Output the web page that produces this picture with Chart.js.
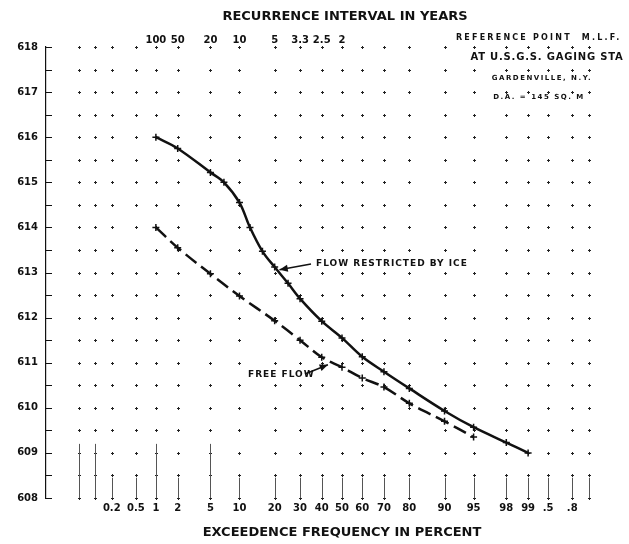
<!DOCTYPE html>
<html>
<head>
<meta charset="utf-8">
<title>Stage frequency curve</title>
<style>
  html, body { margin: 0; padding: 0; background: #fff; }
  #wrap { width: 629px; height: 544px; }
</style>
<script src="https://cdn.jsdelivr.net/npm/chart.js@4.4.0/dist/chart.umd.min.js"></script>
</head>
<body>
<div id="wrap"><canvas id="chart" width="629" height="544"></canvas></div>
<script>
// --- Data ---
const gridPercents = [0.05, 0.1, 0.2, 0.5, 1, 2, 5, 10, 20, 30, 40, 50, 60, 70, 80, 90, 95, 98, 99, 99.5, 99.8, 99.9];
const bottomLabels = ['', '', '0.2', '0.5', '1', '2', '5', '10', '20', '30', '40', '50', '60', '70', '80', '90', '95', '98', '99', '.5', '.8', ''];
const recurrencePercents = [1, 2, 5, 10, 20, 30, 40, 50];
const recurrenceLabels = ['100', '50', '20', '10', '5', '3.3', '2.5', '2'];
const stageRows = [608, 608.5, 609, 609.5, 610, 610.5, 611, 611.5, 612, 612.5, 613, 613.5, 614, 614.5, 615, 615.5, 616, 616.5, 617, 617.5, 618];

const iceFlowPercents = [1, 2, 5, 7, 10, 12.5, 16, 20, 25, 30, 40, 50, 60, 70, 80, 90, 95, 98, 99];
const iceFlowStages = [616.0, 615.75, 615.22, 615.0, 614.55, 614.0, 613.47, 613.12, 612.76, 612.42, 611.92, 611.55, 611.13, 610.8, 610.43, 609.93, 609.57, 609.23, 609.0];

const freeFlowPercents = [1, 2, 5, 10, 20, 30, 40, 50, 60, 70, 80, 90, 95];
const freeFlowStages = [614.0, 613.55, 612.97, 612.48, 611.93, 611.5, 611.12, 610.9, 610.66, 610.46, 610.1, 609.7, 609.35];

const FONT = "'DejaVu Sans', sans-serif";
const INK = '#111';

// --- Helpers ---
// inverse normal CDF (probability paper scale)
function probit(p) {
  const a = [-3.969683028665376e+01, 2.209460984245205e+02, -2.759285104469687e+02, 1.383577518672690e+02, -3.066479806614716e+01, 2.506628277459239e+00];
  const b = [-5.447609879822406e+01, 1.615858368580409e+02, -1.556989798598866e+02, 6.680131188771972e+01, -1.328068155288572e+01];
  const c = [-7.784894002430293e-03, -3.223964580411365e-01, -2.400758277161838e+00, -2.549732539343734e+00, 4.374664141464968e+00, 2.938163982698783e+00];
  const d = [7.784695709041462e-03, 3.224671290700398e-01, 2.445134137142996e+00, 3.754408661907416e+00];
  const pl = 0.02425;
  let q, r;
  if (p < pl) {
    q = Math.sqrt(-2 * Math.log(p));
    return (((((c[0]*q+c[1])*q+c[2])*q+c[3])*q+c[4])*q+c[5]) / ((((d[0]*q+d[1])*q+d[2])*q+d[3])*q+1);
  }
  if (p > 1 - pl) {
    q = Math.sqrt(-2 * Math.log(1 - p));
    return -(((((c[0]*q+c[1])*q+c[2])*q+c[3])*q+c[4])*q+c[5]) / ((((d[0]*q+d[1])*q+d[2])*q+d[3])*q+1);
  }
  q = p - 0.5; r = q * q;
  return (((((a[0]*r+a[1])*r+a[2])*r+a[3])*r+a[4])*r+a[5])*q / (((((b[0]*r+b[1])*r+b[2])*r+b[3])*r+b[4])*r+1);
}
const zOf = pct => probit(pct / 100);
const toPoints = (pcts, vals) => pcts.map((p, i) => ({ x: zOf(p), y: vals[i] }));

function arrow(ctx, x0, y0, x1, y1) {
  const ang = Math.atan2(y1 - y0, x1 - x0);
  ctx.beginPath();
  ctx.moveTo(x0, y0);
  ctx.lineTo(x1, y1);
  ctx.stroke();
  ctx.beginPath();
  ctx.moveTo(x1, y1);
  ctx.lineTo(x1 - 9 * Math.cos(ang - 0.4), y1 - 9 * Math.sin(ang - 0.4));
  ctx.lineTo(x1 - 9 * Math.cos(ang + 0.4), y1 - 9 * Math.sin(ang + 0.4));
  ctx.closePath();
  ctx.fill();
}

// --- Dot grid of the probability paper ---
const dotGrid = {
  id: 'dotGrid',
  beforeDatasetsDraw(chart) {
    const { ctx, scales: { x, y } } = chart;
    ctx.save();
    ctx.strokeStyle = '#222';
    ctx.lineWidth = 1;
    gridPercents.forEach((p, i) => {
      const px = Math.round(x.getPixelForValue(zOf(p))) + 0.5;
      stageRows.forEach(s => {
        const py = Math.round(y.getPixelForValue(s)) + 0.5;
        ctx.beginPath();
        ctx.moveTo(px - 1.5, py); ctx.lineTo(px + 1.5, py);
        ctx.moveTo(px, py - 1.5); ctx.lineTo(px, py + 1.5);
        ctx.stroke();
      });
      // faint stubs at the foot of each column
      ctx.strokeStyle = '#555';
      ctx.beginPath();
      ctx.moveTo(px, y.getPixelForValue(608));
      ctx.lineTo(px, y.getPixelForValue(i < 2 || p === 1 || p === 5 ? 609.2 : 608.45));
      ctx.stroke();
      ctx.strokeStyle = '#222';
    });
    // half-foot ticks on the left axis
    ctx.strokeStyle = INK;
    stageRows.forEach(s => {
      const py = Math.round(y.getPixelForValue(s)) + 0.5;
      ctx.beginPath();
      ctx.moveTo(x.left, py); ctx.lineTo(x.left + 6, py);
      ctx.stroke();
    });
    ctx.restore();
  }
};

// --- Titles, notes and arrows ---
const notes = {
  id: 'notes',
  afterDatasetsDraw(chart) {
    const { ctx, scales: { x, y } } = chart;
    const midX = x.getPixelForValue(0);
    ctx.save();
    ctx.fillStyle = INK;
    ctx.strokeStyle = INK;
    ctx.textBaseline = 'middle';

    ctx.font = `bold 13px ${FONT}`;
    ctx.textAlign = 'center';
    ctx.fillText('RECURRENCE INTERVAL IN YEARS', midX + 3, 17);
    ctx.fillText('EXCEEDENCE FREQUENCY IN PERCENT', midX, 533);

    // station note, top right
    ctx.letterSpacing = '2.2px';
    ctx.font = `bold 8px ${FONT}`;
    ctx.textAlign = 'left';
    ctx.fillText('REFERENCE POINT  M.L.F.', 456, 38);
    ctx.letterSpacing = '0.8px';
    ctx.font = `bold 10px ${FONT}`;
    ctx.textAlign = 'center';
    ctx.fillText('AT U.S.G.S. GAGING STA', 547, 57);
    ctx.letterSpacing = '1.5px';
    ctx.font = `bold 7px ${FONT}`;
    ctx.fillText('GARDENVILLE, N.Y.', 542, 78);
    ctx.fillText('D.A. = 145 SQ. M', 539, 97);

    // curve labels
    ctx.letterSpacing = '1px';
    ctx.font = `bold 9px ${FONT}`;
    ctx.textAlign = 'left';
    ctx.fillText('FLOW RESTRICTED BY ICE', 316, 264);
    ctx.fillText('FREE FLOW', 248, 375);

    ctx.lineWidth = 1.5;
    const iceTip = { x: x.getPixelForValue(zOf(21)), y: y.getPixelForValue(613.04) };
    arrow(ctx, 311, 264, iceTip.x + 2, iceTip.y - 1);
    const freeTip = { x: x.getPixelForValue(zOf(44)), y: y.getPixelForValue(611.0) };
    arrow(ctx, 305, 374, freeTip.x - 2, freeTip.y + 2);
    ctx.restore();
  }
};

// --- Chart ---
const zMin = -3.7, zMax = 3.35;

new Chart(document.getElementById('chart'), {
  type: 'line',
  data: {
    datasets: [
      {
        label: 'Flow restricted by ice',
        data: toPoints(iceFlowPercents, iceFlowStages),
        borderColor: INK,
        borderWidth: 2.5,
        tension: 0.35,
        pointStyle: 'cross',
        pointRadius: 3.5,
        pointBorderWidth: 1.5,
        pointBorderColor: INK
      },
      {
        label: 'Free flow',
        data: toPoints(freeFlowPercents, freeFlowStages),
        borderColor: INK,
        borderWidth: 2.5,
        borderDash: [14, 6],
        tension: 0.35,
        pointStyle: 'cross',
        pointRadius: 3.5,
        pointBorderWidth: 1.5,
        pointBorderColor: INK
      }
    ]
  },
  options: {
    responsive: false,
    animation: false,
    layout: { padding: { left: 0, right: 19, top: 0, bottom: 0 } },
    plugins: { legend: { display: false }, tooltip: { enabled: false } },
    scales: {
      x: {
        type: 'linear',
        position: 'bottom',
        min: zMin,
        max: zMax,
        afterBuildTicks: scale => { scale.ticks = gridPercents.map(p => ({ value: zOf(p) })); },
        afterFit: scale => { scale.height = 46; },
        ticks: {
          autoSkip: false,
          maxRotation: 0,
          padding: 4,
          color: INK,
          font: { family: FONT, size: 10, weight: 'bold' },
          callback: (v, i) => bottomLabels[i]
        },
        grid: { display: false, drawTicks: false },
        border: { display: false }
      },
      x2: {
        type: 'linear',
        position: 'top',
        min: zMin,
        max: zMax,
        afterBuildTicks: scale => { scale.ticks = recurrencePercents.map(p => ({ value: zOf(p) })); },
        afterFit: scale => { scale.height = 47; },
        ticks: {
          autoSkip: false,
          maxRotation: 0,
          padding: 1,
          color: INK,
          font: { family: FONT, size: 10, weight: 'bold' },
          callback: (v, i) => recurrenceLabels[i]
        },
        grid: { display: false, drawTicks: false },
        border: { display: false }
      },
      y: {
        min: 608,
        max: 618,
        afterFit: scale => { scale.width = 46; },
        ticks: {
          stepSize: 1,
          padding: 8,
          color: INK,
          font: { family: FONT, size: 10, weight: 'bold' }
        },
        grid: { display: false, drawTicks: false },
        border: { display: true, color: INK, width: 1.2 }
      }
    }
  },
  plugins: [dotGrid, notes]
});
</script>
</body>
</html>
